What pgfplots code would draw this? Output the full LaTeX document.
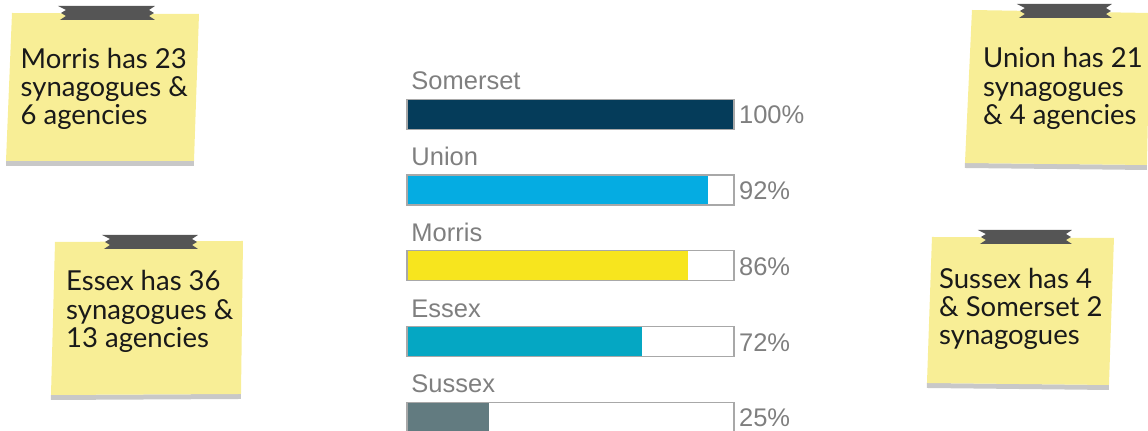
\documentclass[border=0pt]{standalone}
\usepackage{pgfplots}
\pgfplotsset{compat=1.18}
\usepackage{fontspec}
\setmainfont{Liberation Sans}
\newfontfamily\lato{Lato}
\definecolor{cSom}{HTML}{053C5A}
\definecolor{cUni}{HTML}{05ACE2}
\definecolor{cMor}{HTML}{F7E51E}
\definecolor{cEss}{HTML}{05A7C3}
\definecolor{cSus}{HTML}{627B80}
\definecolor{lbl}{HTML}{7F7F7F}
\definecolor{brd}{HTML}{A8A8A8}
\definecolor{note}{HTML}{F8EE96}
\definecolor{shad}{HTML}{C8C8C8}
\definecolor{tape}{HTML}{555555}
\newcommand{\tape}[3]{% x0 x1 y0
  \fill[tape] (#1,#3) -- (#2,#3) -- ({#2-6},{#3+4}) -- ({#2-1},{#3+7}) -- ({#2-6},{#3+10}) -- (#2,{#3+14})
   -- ({#1+2},{#3+14}) -- ({#1+8},{#3+10}) -- ({#1+3},{#3+7}) -- ({#1+8},{#3+4}) -- cycle;}
\newcommand{\note}[8]{% TL TR BR BL as x,y pairs
  \fill[shad] (#7,#8) -- (#5,#6) -- (#5,{#6+5}) -- (#7,{#8+5}) -- cycle;
  \fill[note] (#1,#2) -- (#3,#4) -- (#5,#6) -- (#7,#8) -- cycle;}
\begin{document}
\begin{tikzpicture}
\begin{axis}[
  at={(0pt,0pt)}, anchor=south west,
  scale only axis, width=1148pt, height=431pt,
  hide axis,
  xmin=-124.46, xmax=226.61,
  ymin=0, ymax=431, y dir=reverse,
]
\addplot[xbar, bar width=30pt, bar shift=0pt, fill=cSom, draw=none] coordinates {(100,114.3)};
\addplot[xbar, bar width=30pt, bar shift=0pt, fill=cUni, draw=none] coordinates {(92,190.05)};
\addplot[xbar, bar width=30pt, bar shift=0pt, fill=cMor, draw=none] coordinates {(86,265.8)};
\addplot[xbar, bar width=30pt, bar shift=0pt, fill=cEss, draw=none] coordinates {(72,341.55)};
\addplot[xbar, bar width=30pt, bar shift=0pt, fill=cSus, draw=none] coordinates {(25,417.3)};
\addplot[xbar, bar width=30pt, bar shift=0pt, fill=none, draw=brd, line width=1.2pt]
  coordinates {(100,114.3) (100,190.05) (100,265.8) (100,341.55) (100,417.3)};
\foreach \n/\y/\p in {Somerset/114.3/100, Union/190.05/92, Morris/265.8/86, Essex/341.55/72, Sussex/417.3/25}{
  \edef\tmp{\noexpand\node[anchor=base west, inner sep=0pt, text=lbl, font=\noexpand\fontsize{25.5}{28}\noexpand\selectfont]
     at (axis cs:1.3,\y-24.5) {\n};
   \noexpand\node[anchor=base west, inner sep=0pt, text=lbl, font=\noexpand\fontsize{25.5}{28}\noexpand\selectfont]
     at (axis cs:101.5,\y+9.6) {\p\noexpand\%};}
  \tmp
}
\coordinate (SW) at (rel axis cs:0,1);
\coordinate (NE) at (rel axis cs:1,0);
\end{axis}
\begin{scope}[shift={(0pt,431pt)}, x=1pt, y=-1pt]
  \note{12}{13}{199}{14}{194}{161}{6}{161}
  \tape{58}{155}{6}
  \note{972}{10}{1150}{13}{1147}{165}{965}{163}
  \tape{1017}{1112}{4}
  \note{55}{242}{243}{241}{241}{394}{51}{395}
  \tape{102}{198}{235}
  \note{932}{237}{1114}{238}{1109}{385}{927}{383}
  \tape{978}{1072}{230}
  \begin{scope}[every node/.style={anchor=base west, inner sep=0pt, text=black!90, font=\lato\fontsize{27.5}{28}\selectfont}]
    \node at (20.5,69) {Morris has 23};
    \node at (20.5,97) {synagogues \&};
    \node at (20.5,125) {6 agencies};
    \node at (983,68) {Union has 21};
    \node at (983,96.5) {synagogues};
    \node at (983,125) {\& 4 agencies};
    \node at (66,291) {Essex has 36};
    \node at (66,319.5) {synagogues \&};
    \node at (66,348) {13 agencies};
    \node at (939,289) {Sussex has 4};
    \node at (939,317) {\& Somerset 2};
    \node at (939,345) {synagogues};
  \end{scope}
\end{scope}
\pgfresetboundingbox
\useasboundingbox (SW) rectangle (NE);
\end{tikzpicture}
\end{document}
